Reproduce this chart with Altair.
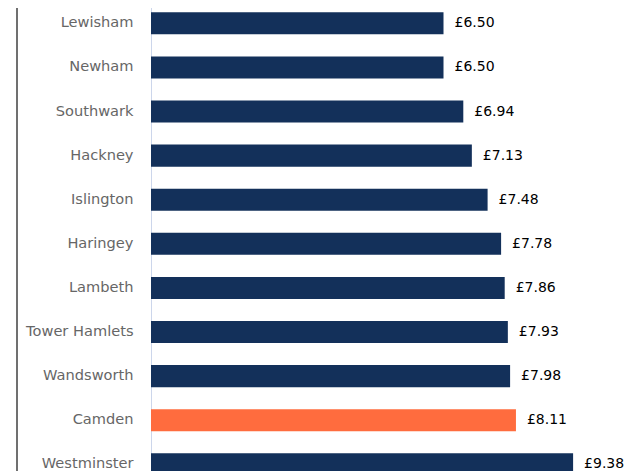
import altair as alt
import pandas as pd

boroughs = ["Lewisham", "Newham", "Southwark", "Hackney", "Islington", "Haringey",
            "Lambeth", "Tower Hamlets", "Wandsworth", "Camden", "Westminster"]
prices = [6.50, 6.50, 6.94, 7.13, 7.48, 7.78, 7.86, 7.93, 7.98, 8.11, 9.38]
highlight = "Camden"

df = pd.DataFrame({"borough": boroughs, "price": prices})
df["hl"] = ["yes" if b == highlight else "no" for b in boroughs]

W = 474
H = 463
step = 44.1
r0 = 15.3 - step / 2

yenc = alt.Y(
    "borough:N",
    sort=boroughs,
    scale=alt.Scale(range=[r0, r0 + len(boroughs) * step], paddingInner=0.5, paddingOuter=0.25),
    axis=alt.Axis(title=None, ticks=False, labelPadding=18, labelColor="#666666",
                  labelFontSize=14.6, labelFont="DejaVu Sans", domainColor="#ccd6eb",
                  domainWidth=1, labelLimit=200),
)
xenc = alt.X("price:Q", scale=alt.Scale(domain=[0, W / 45.0]), axis=None)

base = alt.Chart(df)

bars = base.mark_bar(clip=True).encode(
    y=yenc,
    x=xenc,
    color=alt.Color("hl:N", scale=alt.Scale(domain=["no", "yes"], range=["#13305a", "#ff6c3e"]), legend=None),
)

labels = base.transform_calculate(
    lab="'£' + format(datum.price, '.2f')"
).mark_text(align="left", baseline="middle", dx=11, fontSize=14, font="DejaVu Sans", color="#000000").encode(
    y=yenc, x=xenc, text="lab:N"
)

frame = alt.Chart(pd.DataFrame({"a": [0]})).mark_rule(color="#707070", strokeWidth=2).encode(
    x=alt.value(-134), y=alt.value(0), y2=alt.value(H)
)

chart = alt.layer(bars, labels, frame).properties(
    width=W, height=H,
    autosize=alt.AutoSizeParams(type="none"),
    padding={"left": 143, "top": 0, "right": 0, "bottom": 0},
).configure_view(stroke=None)

chart.save("out.html", embed_options={"renderer": "svg", "actions": False})
